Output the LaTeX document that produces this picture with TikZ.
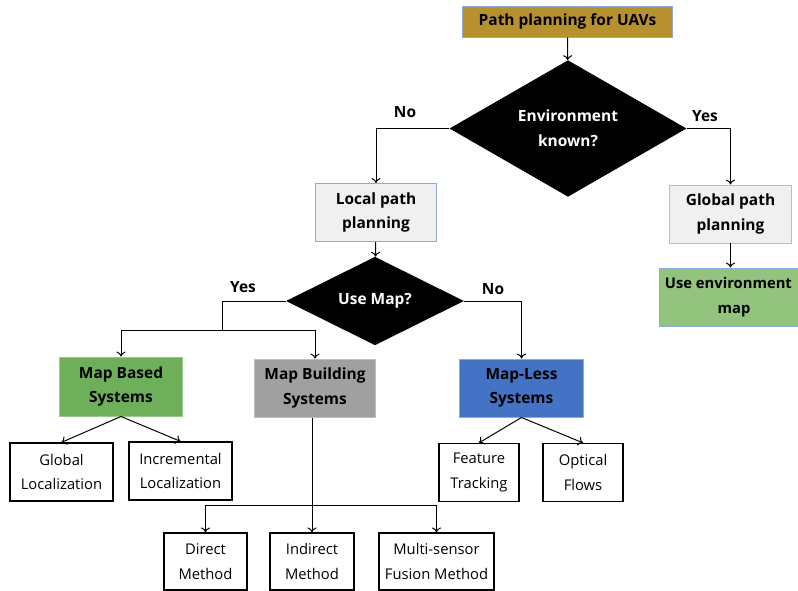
\documentclass[tikz,border=0pt]{standalone}
\usepackage{fontspec}
\setmainfont{Open Sans}
\usetikzlibrary{shapes.geometric,arrows.meta}
\definecolor{topfill}{HTML}{B8912F}
\definecolor{boxblue}{HTML}{8EA9DB}
\definecolor{boxgreen}{HTML}{A9D18E}
\definecolor{envgreen}{HTML}{93C47D}
\definecolor{basegreen}{HTML}{6DB059}
\definecolor{buildgray}{HTML}{A0A0A0}
\definecolor{lessblue}{HTML}{4472C4}

\begin{document}
\begin{tikzpicture}[x=0.025cm, y=-0.025cm, >={To[length=3.5pt,width=6.5pt]},
    mainbox/.style={draw, line width=0.7pt, align=center, inner sep=0pt,
        minimum height=1.45cm, font=\fontsize{11}{17.5}\selectfont\bfseries},
    leafbox/.style={draw=black, line width=0.9pt, fill=white, align=center, inner sep=0pt,
        minimum height=1.45cm, font=\fontsize{10.5}{17.5}\selectfont},
    decision/.style={diamond, fill=black, text=white, align=center, inner sep=0pt,
        font=\fontsize{11}{17.5}\selectfont\bfseries},
    answer/.style={font=\fontsize{11}{13}\selectfont\bfseries},
    line/.style={line width=0.7pt},
    ]
    \useasboundingbox (0,0) rectangle (798,591);
    % top of the tree
    \node[mainbox, draw=boxblue, fill=topfill, minimum width=5.225cm, minimum height=0.775cm] (uav) at (567.5,21.5) {Path planning for UAVs};
    \node[decision, minimum width=5.925cm, minimum height=2.825cm] (envknown) at (568,128.5) {Environment\\known?};
    \node[mainbox, draw=boxblue, fill=gray!12, minimum width=3cm] (local) at (376,212.5) {Local path\\planning};
    \node[mainbox, draw=boxgreen, fill=gray!12, minimum width=3.025cm] (global) at (730.5,214) {Global path\\planning};
    \node[mainbox, draw=boxblue, fill=envgreen, minimum width=3.7cm, font=\fontsize{10.5}{17.5}\selectfont\bfseries] (envmap) at (734,297) {\hspace*{-8pt}Use environment\\map};
    \node[decision, minimum width=4.45cm, minimum height=1.6cm] (usemap) at (375,301) {Use Map?};
    % systems
    \node[mainbox, draw=basegreen!70, fill=basegreen, minimum width=3.05cm, minimum height=1.475cm] (mapbased) at (121,386.5) {Map Based\\Systems};
    \node[mainbox, draw=gray!50, fill=buildgray, minimum width=3cm] (mapbuild) at (315,388) {Map Building\\Systems};
    \node[mainbox, draw=boxblue, fill=lessblue, minimum width=3.075cm] (mapless) at (521.5,388) {Map-Less\\Systems};
    % leaves
    \node[leafbox, minimum width=2.575cm] (globloc) at (61.5,472) {Global\\Localization};
    \node[leafbox, minimum width=2.575cm] (incloc) at (180.5,471) {Incremental\\Localization};
    \node[leafbox, minimum width=2cm] (feature) at (479,472.5) {Feature\\Tracking};
    \node[leafbox, minimum width=2cm] (optical) at (583,472.5) {Optical\\Flows};
    \node[leafbox, minimum width=2.075cm, minimum height=1.425cm] (direct) at (205.5,561.5) {Direct\\Method};
    \node[leafbox, minimum width=2.1cm, minimum height=1.425cm] (indirect) at (312,561.5) {Indirect\\Method};
    \node[leafbox, minimum width=2.875cm, minimum height=1.425cm] (multi) at (436.5,561.5) {Multi-sensor\\Fusion Method};
    % branch points
    \coordinate (usesplit) at (222,330);
    \coordinate (buildsplit) at (312,505);
    % connectors
    \draw[line, ->] (uav) -- (envknown);
    \draw[line, ->] (envknown.west) -| (local.north);
    \draw[line, ->] (envknown.east) -| (global.north);
    \draw[line, ->] (global) -- (global |- envmap.north);
    \draw[line, ->] (local) -- (usemap);
    \draw[line, ->] (usemap.east) -| (mapless.north);
    \draw[line] (usemap.west) -| (usesplit);
    \draw[line, ->] (usesplit) -| (mapbased.north);
    \draw[line, ->] (usesplit) -| (mapbuild.north);
    \draw[line, ->] (mapbased.south) -- (globloc.north);
    \draw[line, ->] (mapbased.south) -- (incloc.north);
    \draw[line, ->] (mapless.south) -- (feature.north);
    \draw[line, ->] (mapless.south) -- (optical.north);
    \draw[line] (mapbuild.south -| buildsplit) -- (buildsplit);
    \draw[line, ->] (buildsplit) -| (direct.north);
    \draw[line, ->] (buildsplit) -- (indirect.north);
    \draw[line, ->] (buildsplit) -| (multi.north);
    % answers
    \node[answer] (envno) at (405,112) {No};
    \node[answer] (envyes) at (705,116) {Yes};
    \node[answer] (mapyes) at (243,287) {Yes};
    \node[answer] (mapno) at (493,289) {No};
\end{tikzpicture}
\end{document}
